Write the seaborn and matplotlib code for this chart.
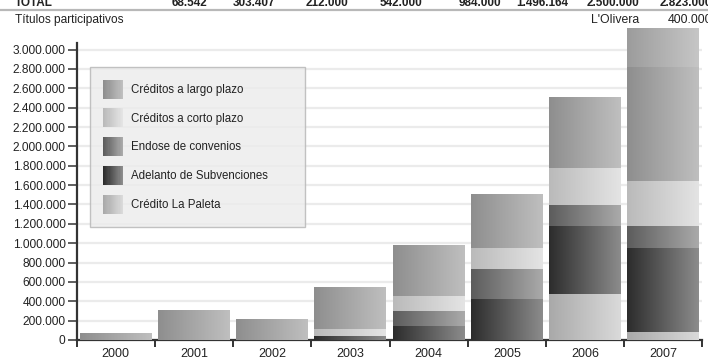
import numpy as np
import pandas as pd
import matplotlib
matplotlib.use("Agg")
import matplotlib.pyplot as plt
from matplotlib.patches import Rectangle
from matplotlib.lines import Line2D
from matplotlib.legend_handler import HandlerBase
from matplotlib.colors import LinearSegmentedColormap
import seaborn as sns

# ---- data -------------------------------------------------------------
years = ["2000", "2001", "2002", "2003", "2004", "2005", "2006", "2007"]
credito_la_paleta = [0, 0, 0, 0, 0, 0, 475000, 86000]
adelanto_subvenciones = [0, 0, 0, 45000, 145000, 420000, 703000, 862000]
endose_convenios = [0, 0, 0, 0, 158000, 310000, 212000, 233000]
creditos_corto_plazo = [0, 0, 0, 65000, 155000, 217000, 382000, 462000]
creditos_largo_plazo = [68542, 303407, 212000, 432000, 526000, 549164, 728000, 1180000]
titulos_participativos = [0, 0, 0, 0, 0, 0, 0, 400000]
titulos_entidad = "L'Olivera"

series_names = ["Crédito La Paleta", "Adelanto de Subvenciones", "Endose de convenios",
                "Créditos a corto plazo", "Créditos a largo plazo", "Títulos participativos"]
series_values = [credito_la_paleta, adelanto_subvenciones, endose_convenios,
                 creditos_corto_plazo, creditos_largo_plazo, titulos_participativos]
# left / right shade of the horizontal gradient of each series
series_shades = [("#a9a9a9", "#dadada"), ("#2c2c2c", "#8c8c8c"), ("#5c5c5c", "#aaaaaa"),
                 ("#bababa", "#e4e4e4"), ("#8e8e8e", "#bfbfbf"), ("#9c9c9c", "#c6c6c6")]

legend_order = ["Créditos a largo plazo", "Créditos a corto plazo", "Endose de convenios",
                "Adelanto de Subvenciones", "Crédito La Paleta"]

y_ticks = list(range(0, 3000001, 200000))


def fmt_es(v):
    return f"{int(round(v)):,}".replace(",", ".")


# ---- figure -----------------------------------------------------------
sns.set_theme(style="white")
plt.rcParams["font.family"] = ["Liberation Sans", "DejaVu Sans"]
plt.rcParams["text.color"] = "#222222"
plt.rcParams["xtick.color"] = "#333333"
plt.rcParams["ytick.color"] = "#333333"
plt.rcParams["xtick.labelcolor"] = "#222222"
plt.rcParams["ytick.labelcolor"] = "#222222"

W, H = 708, 360
fig = plt.figure(figsize=(W / 100, H / 100), dpi=100)
fig.patch.set_facecolor("white")
ax = fig.add_axes([76.7 / W, 20 / H, 625.6 / W, 314.6 / H])

df = pd.DataFrame({"year": years})
for name, vals in zip(series_names, series_values):
    df[name] = vals

# cumulative stacks, tallest first so lower segments sit on top of it
cum = df[series_names].cumsum(axis=1)
layers = []
for k in range(len(series_names) - 1, -1, -1):
    n_before = len(ax.patches)
    sns.barplot(x=df["year"], y=cum[series_names[k]], ax=ax, width=0.92,
                color="white", saturation=1, errorbar=None)
    layers.append((k, ax.patches[n_before:]))

# replace flat bars with horizontal gradients, one segment per series
for k, patches in layers:
    c0, c1 = series_shades[k]
    cmap = LinearSegmentedColormap.from_list(f"g{k}", [c0, c1])
    grad = np.linspace(0, 1, 256).reshape(1, -1)
    for i, p in enumerate(patches):
        p.set_visible(False)
        top = p.get_height()
        base = cum[series_names[k - 1]].iloc[i] if k > 0 else 0
        if top - base <= 0:
            continue
        x0 = p.get_x()
        ax.imshow(grad, cmap=cmap, extent=(x0, x0 + p.get_width(), base, top),
                  aspect="auto", interpolation="bilinear", zorder=3 + k)

ax.set_xlim(-0.5, len(years) - 0.5)
ax.set_ylim(0, 3250000)

# axes styling
for s in ["top", "right"]:
    ax.spines[s].set_visible(False)
for s in ["left", "bottom"]:
    ax.spines[s].set_color("#333333")
    ax.spines[s].set_linewidth(1.6)
ax.spines["left"].set_bounds(0, 3070000)

ax.set_yticks(y_ticks)
ax.set_yticklabels([fmt_es(v) for v in y_ticks])
ax.tick_params(axis="y", direction="out", length=6.5, width=1.1,
               pad=1.5, labelsize=8.6, left=True)
ax.yaxis.grid(True, color="#ebebeb", linewidth=1.6)
ax.set_axisbelow(True)

ax.set_xticks(np.arange(-0.5, len(years)), minor=False)
ax.set_xticklabels([""] * (len(years) + 1))
ax.set_xticks(np.arange(len(years)), minor=True)
ax.set_xticklabels(years, minor=True)
ax.tick_params(axis="x", which="major", direction="out", length=5, width=1.4,
               bottom=True)
ax.tick_params(axis="x", which="minor", length=0, pad=5.5, labelsize=9, bottom=True)
ax.set_xlabel("")
ax.set_ylabel("")


# legend with gradient swatches
class GradientSwatch(HandlerBase):
    def __init__(self, c0, c1, n=18):
        super().__init__()
        self.cmap = LinearSegmentedColormap.from_list("sw", [c0, c1])
        self.n = n

    def create_artists(self, legend, orig_handle, xdescent, ydescent,
                       width, height, fontsize, trans):
        arts = []
        step = width / self.n
        for i in range(self.n):
            arts.append(Rectangle((-xdescent + i * step, -ydescent), step * 1.05, height,
                                  facecolor=self.cmap(i / (self.n - 1)),
                                  edgecolor="none", transform=trans))
        return arts


handles, hmap = [], {}
for name in legend_order:
    k = series_names.index(name)
    h = Rectangle((0, 0), 1, 1)
    handles.append(h)
    hmap[h] = GradientSwatch(*series_shades[k])

y_top = (340 - 66.7) / 314.6
y_bot = (340 - 226.7) / 314.6
leg = ax.legend(handles, legend_order, handler_map=hmap,
                loc="upper left", bbox_to_anchor=(13.3 / 625.6, y_bot, 215 / 625.6, y_top - y_bot),
                mode="expand", borderaxespad=0, fontsize=8.3,
                handlelength=1.73, handleheight=2.16, labelspacing=0.85,
                handletextpad=0.67, borderpad=1.12, fancybox=False, frameon=True)
leg.get_frame().set_facecolor("#ececec")
leg.get_frame().set_edgecolor("#b4b4b4")
leg.get_frame().set_linewidth(1.0)
leg.set_zorder(20)

# ---- summary rows above the chart -------------------------------------
def fx(px):
    return px / W


def fy(py):
    return 1 - py / H


totals = df[series_names[:5]].sum(axis=1).tolist()
col_right = [207, 275, 348, 422, 501, 568, 639, 712]

fig.text(fx(15), fy(5.5), "TOTAL", fontsize=8.5, fontweight="bold", va="baseline", ha="left")
for xr, t in zip(col_right, totals):
    fig.text(fx(xr), fy(5.5), fmt_es(t), fontsize=8.5, fontweight="bold",
             va="baseline", ha="right")
fig.add_artist(Line2D([0, 1], [fy(10), fy(10)], transform=fig.transFigure,
                      color="#b8b8b8", linewidth=1.6))

fig.text(fx(15), fy(20), "Títulos participativos", fontsize=8.6, va="center", ha="left")
fig.text(fx(col_right[-2]), fy(20), titulos_entidad, fontsize=8.8, va="center", ha="right")
fig.text(fx(col_right[-1]), fy(20), fmt_es(titulos_participativos[-1]), fontsize=8.8,
         va="center", ha="right")

fig.savefig("out.png", dpi=100)
